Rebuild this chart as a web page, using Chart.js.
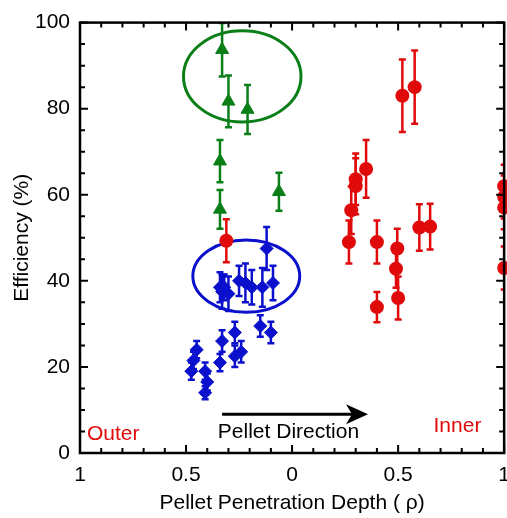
<!DOCTYPE html>
<html>
<head>
<meta charset="utf-8">
<script src="https://cdn.jsdelivr.net/npm/chart.js@4.4.1/dist/chart.umd.min.js"></script>
<style>
  html, body { margin: 0; padding: 0; background: #fff; overflow: hidden; }
  canvas { display: block; }
</style>
</head>
<body>
<canvas id="EffChart" width="520" height="518"></canvas>
<script>
// Pellet penetration depth: negative = outer side, positive = inner side
const redX = [-0.31, 0.268, 0.279, 0.30, 0.30, 0.349, 0.40, 0.40, 0.496, 0.49, 0.50, 0.52, 0.578, 0.60, 0.651, 1.0, 1.0, 1.0, 1.0];
const redY = [49.3, 49, 56.4, 62, 63.6, 66, 49, 33.9, 47.5, 42.8, 36, 83, 85, 52.4, 52.6, 62, 59.5, 57, 43];
const redErr = [5, 5, 5.5, 6.5, 6, 6.7, 5, 3.5, 4.6, 4.4, 5, 8.4, 8.5, 5.4, 5.3, 5, 5, 5, 5];

const blueX = [-0.34, -0.33, -0.32, -0.30, -0.25, -0.22, -0.19, -0.14, -0.09, -0.12,
  -0.27, -0.33, -0.15, -0.10, -0.24, -0.27, -0.34, -0.45, -0.465, -0.475, -0.41, -0.40, -0.41];
const blueY = [38.5, 37.5, 38.5, 37, 40, 39.5, 38.5, 38.5, 39.5, 47.5,
  28, 26, 29.5, 28, 23.5, 22.5, 21, 24, 21.5, 19, 19, 16.5, 14];
const blueErr = [3.5, 4, 3, 4, 3.5, 4.5, 4, 4.5, 4, 5,
  2.5, 2.5, 2.5, 2.5, 2.5, 2.5, 2, 2, 2, 2, 2, 2, 1.5];

const greenX = [-0.33, -0.30, -0.21, -0.34, -0.34, -0.062];
const greenY = [93.7, 81.7, 79.8, 67.8, 56.6, 60.7];
const greenErr = [6.2, 6, 5.7, 4.9, 4.5, 4.4];

const xTicks = [-1, -0.5, 0, 0.5, 1];
const yTicks = [0, 20, 40, 60, 80, 100];

const RED = "#e00a0a";
const BLUE = "#0a10cc";
const GREEN = "#0b7f17";
const FONT = { family: "'Liberation Sans', Arial, sans-serif", size: 21 };

function toPoints(xs, ys) {
  return xs.map((x, i) => ({ x: x, y: ys[i] }));
}

// error bars, ellipses, frame with inward ticks, and the text/arrow annotations
const decorations = {
  id: "decorations",
  beforeDatasetsDraw(chart) {
    const ctx = chart.ctx, xs = chart.scales.x, ys = chart.scales.y, area = chart.chartArea;
    ctx.save();
    // circled groups
    [[-0.235, 87.5, 0.277, 10.6, GREEN], [-0.216, 41.1, 0.252, 8.4, BLUE]].forEach(e => {
      const cx = xs.getPixelForValue(e[0]), cy = ys.getPixelForValue(e[1]);
      const rx = Math.abs(xs.getPixelForValue(e[0] + e[2]) - cx);
      const ry = Math.abs(ys.getPixelForValue(e[1] + e[3]) - cy);
      ctx.beginPath();
      ctx.ellipse(cx, cy, rx, ry, 0, 0, Math.PI * 2);
      ctx.strokeStyle = e[4];
      ctx.lineWidth = 3;
      ctx.stroke();
    });
    ctx.beginPath();
    ctx.rect(area.left, area.top, area.right - area.left, area.bottom - area.top);
    ctx.clip();
    const sets = [[redX, redY, redErr, RED], [blueX, blueY, blueErr, BLUE], [greenX, greenY, greenErr, GREEN]];
    sets.forEach(s => {
      ctx.strokeStyle = s[3];
      ctx.lineWidth = 2.5;
      s[0].forEach((x, i) => {
        const px = xs.getPixelForValue(x);
        const top = ys.getPixelForValue(s[1][i] + s[2][i]);
        const bot = ys.getPixelForValue(s[1][i] - s[2][i]);
        ctx.beginPath();
        ctx.moveTo(px, top); ctx.lineTo(px, bot);
        ctx.moveTo(px - 3.5, top); ctx.lineTo(px + 3.5, top);
        ctx.moveTo(px - 3.5, bot); ctx.lineTo(px + 3.5, bot);
        ctx.stroke();
      });
    });
    ctx.restore();
  },
  afterDatasetsDraw(chart) {
    const ctx = chart.ctx, xs = chart.scales.x, ys = chart.scales.y, a = chart.chartArea;
    ctx.save();
    ctx.strokeStyle = "#000";
    ctx.lineWidth = 2.5;
    ctx.strokeRect(a.left, a.top, a.right - a.left, a.bottom - a.top);
    ctx.lineWidth = 2;
    ctx.beginPath();
    for (let v = -10; v <= 10; v++) {
      const px = xs.getPixelForValue(v / 10);
      const len = v % 5 === 0 ? 8 : 5;
      ctx.moveTo(px, a.bottom); ctx.lineTo(px, a.bottom - len);
      ctx.moveTo(px, a.top); ctx.lineTo(px, a.top + len);
    }
    for (let v = 0; v <= 100; v += 5) {
      const py = ys.getPixelForValue(v);
      const len = v % 20 === 0 ? 8 : 5;
      ctx.moveTo(a.left, py); ctx.lineTo(a.left + len, py);
      ctx.moveTo(a.right, py); ctx.lineTo(a.right - len, py);
    }
    ctx.stroke();

    // arrow
    const x0 = xs.getPixelForValue(-0.33), x1 = xs.getPixelForValue(0.358), ay = ys.getPixelForValue(9);
    ctx.strokeStyle = "#000";
    ctx.lineWidth = 3;
    ctx.beginPath();
    ctx.moveTo(x0, ay); ctx.lineTo(x1 - 12, ay);
    ctx.stroke();
    ctx.fillStyle = "#000";
    ctx.beginPath();
    ctx.moveTo(x1, ay);
    ctx.lineTo(x1 - 22, ay - 10);
    ctx.lineTo(x1 - 16, ay);
    ctx.lineTo(x1 - 22, ay + 10);
    ctx.closePath();
    ctx.fill();

    ctx.font = FONT.size + "px " + FONT.family;
    ctx.textBaseline = "alphabetic";
    ctx.textAlign = "left";
    ctx.fillStyle = "#000";
    ctx.fillText("Pellet Direction", xs.getPixelForValue(-0.35), ys.getPixelForValue(3.4));
    ctx.fillStyle = RED;
    ctx.fillText("Outer", xs.getPixelForValue(-0.967), ys.getPixelForValue(3.0));
    ctx.fillText("Inner", xs.getPixelForValue(0.667), ys.getPixelForValue(4.9));
    ctx.restore();
  }
};

const ctx = document.getElementById("EffChart").getContext("2d");
const effChart = new Chart(ctx, {
  type: "scatter",
  data: {
    datasets: [
      {
        label: "Red",
        data: toPoints(redX, redY),
        pointStyle: "circle",
        pointRadius: 7,
        backgroundColor: RED,
        borderColor: RED,
        borderWidth: 0,
        clip: false,
      },
      {
        label: "Blue",
        data: toPoints(blueX, blueY),
        pointStyle: "rectRot",
        pointRadius: 6.5,
        backgroundColor: BLUE,
        borderColor: BLUE,
        borderWidth: 1,
      },
      {
        label: "Green",
        data: toPoints(greenX, greenY),
        pointStyle: "triangle",
        pointRadius: 7.5,
        backgroundColor: GREEN,
        borderColor: GREEN,
        borderWidth: 1,
      },
    ],
  },
  options: {
    responsive: false,
    animation: false,
    events: [],
    layout: { padding: { top: 20, right: 10, left: 0, bottom: 0 } },
    plugins: { legend: { display: false }, tooltip: { enabled: false } },
    scales: {
      x: {
        type: "linear",
        min: -1,
        max: 1,
        grid: { display: false, drawTicks: false },
        border: { display: false },
        afterBuildTicks: s => { s.ticks = xTicks.map(v => ({ value: v })); },
        ticks: {
          padding: 10,
          color: "#000",
          font: FONT,
          callback: v => String(Math.abs(Math.round(v * 10) / 10)),
        },
        title: {
          display: true,
          text: "Pellet Penetration Depth ( ρ)",
          color: "#000",
          font: FONT,
          padding: { top: 0, bottom: 2 },
        },
        afterFit: s => { s.height = 65; },
      },
      y: {
        min: 0,
        max: 100,
        grid: { display: false, drawTicks: false },
        border: { display: false },
        afterBuildTicks: s => { s.ticks = yTicks.map(v => ({ value: v })); },
        ticks: { padding: 10, color: "#000", font: FONT },
        title: {
          display: true,
          text: "Efficiency (%)",
          color: "#000",
          font: FONT,
          padding: { top: 10, bottom: 0 },
        },
        afterFit: s => { s.width = 80; },
      },
    },
  },
  plugins: [decorations],
});
</script>
</body>
</html>
